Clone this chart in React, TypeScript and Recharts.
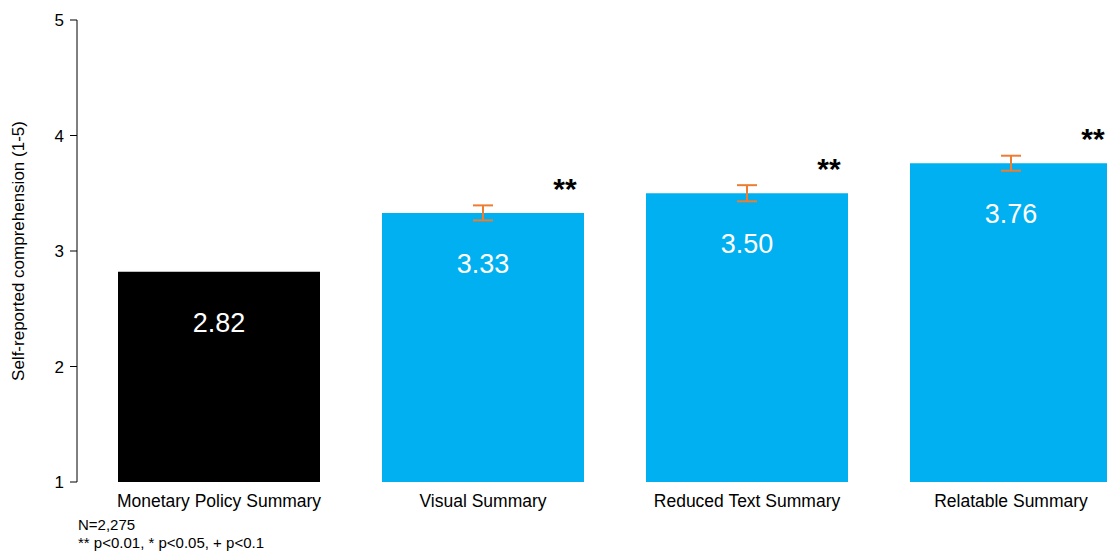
import React from "react";
import { BarChart, Bar, XAxis, YAxis, ErrorBar, LabelList, Cell } from "recharts";

const categories = ["Monetary Policy Summary", "Visual Summary", "Reduced Text Summary", "Relatable Summary"];
const values = [2.82, 3.33, 3.5, 3.76];
const errors: (number | null)[] = [null, 0.065, 0.07, 0.065];
const significance = ["", "**", "**", "**"];
const yTicks = [1, 2, 3, 4, 5];
const barColors = ["#000000", "#00B0F0", "#00B0F0", "#00B0F0"];
const footnotes = ["N=2,275", "** p<0.01, * p<0.05, + p<0.1"];
const yLabel = "Self-reported comprehension (1-5)";

const data = categories.map((name, i) => ({
  name,
  value: values[i],
  err: errors[i],
  sig: significance[i],
}));

const FONT = "'Liberation Sans', Arial, sans-serif";

const ValueLabel = (props: any) => {
  const { x, y, width, value } = props;
  return (
    <text x={x + width / 2} y={y + 51} textAnchor="middle" dominantBaseline="central" fill="#ffffff" fontSize={27} fontFamily={FONT}>
      {Number(value).toFixed(2)}
    </text>
  );
};

const SigLabel = (props: any) => {
  const { x, y, width, value } = props;
  if (!value) return null;
  return (
    <text x={x + width - 19} y={y - 14} textAnchor="middle" fill="#000000" fontSize={30} fontWeight="bold" fontFamily={FONT}>
      {value}
    </text>
  );
};

const YLabel = (props: any) => {
  const vb = props.viewBox || {};
  const cy = vb.y + vb.height / 2;
  const cx = 18;
  return (
    <text x={cx} y={cy} transform={`rotate(-90 ${cx} ${cy})`} textAnchor="middle" dominantBaseline="central" fill="#000" fontSize={17} fontFamily={FONT}>
      {yLabel}
    </text>
  );
};

export default function App() {
  return (
    <div style={{ position: "fixed", left: 0, top: 0, width: 1107, height: 554, overflow: "hidden", background: "#fff", fontFamily: FONT }}>
      <BarChart
        width={1143}
        height={554}
        data={data}
        margin={{ top: 20, right: 0, bottom: 42, left: 8 }}
      >
        <YAxis
          type="number"
          domain={[1, 5]}
          ticks={yTicks}
          width={69}
          axisLine={{ stroke: "#000", strokeWidth: 1 }}
          tickLine={{ stroke: "#000", strokeWidth: 1 }}
          tickSize={7}
          tickMargin={6}
          tick={{ fill: "#000", fontSize: 17, fontFamily: FONT }}
          label={<YLabel />}
        />
        <XAxis
          dataKey="name"
          axisLine={false}
          tickLine={false}
          padding={{ left: 10, right: 0 }}
          tick={{ fill: "#000", fontSize: 17.5, fontFamily: FONT }}
          tickMargin={7}
          height={30}
          interval={0}
        />
        <Bar dataKey="value" barSize={202} isAnimationActive={false}>
          {data.map((d, i) => (
            <Cell key={d.name} fill={barColors[i]} />
          ))}
          <ErrorBar dataKey="err" width={10} stroke="#ED7D31" strokeWidth={2} direction="y" />
          <LabelList dataKey="value" content={<ValueLabel />} />
          <LabelList dataKey="sig" content={<SigLabel />} />
        </Bar>
      </BarChart>
      {footnotes.map((t, i) => (
        <div
          key={t}
          style={{ position: "absolute", left: 78, top: 516 + i * 18, fontSize: 15, lineHeight: "17px", color: "#000", whiteSpace: "nowrap" }}
        >
          {t}
        </div>
      ))}
    </div>
  );
}
